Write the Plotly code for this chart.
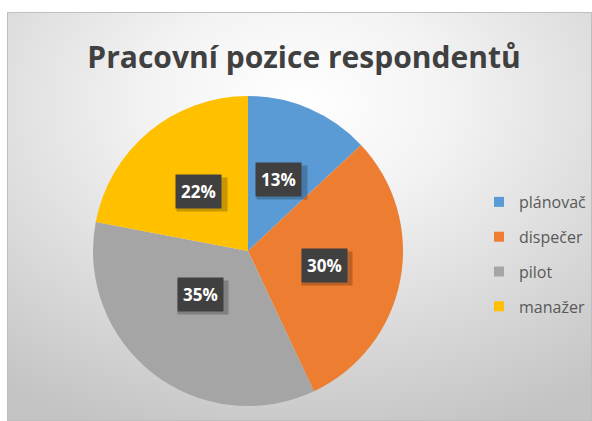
import base64
import math
import plotly.graph_objects as go

# Survey data: job positions of respondents (percent)
categories = ["plánovač", "dispečer", "pilot", "manažer"]
shares = [13, 30, 35, 22]
colors = ["#5B9BD5", "#ED7D31", "#A5A5A5", "#FFC000"]
title_text = "Pracovní pozice respondentů"

W, H = 592, 421

# pie placement (paper fractions)
pie_dom_x = [93 / W, 403 / W]
pie_dom_y = [1 - 406 / H, 1 - 96 / H]

fig = go.Figure()

fig.add_trace(go.Pie(
    labels=categories,
    values=shares,
    sort=False,
    direction="clockwise",
    rotation=0,
    marker=dict(colors=colors, line=dict(width=0)),
    textinfo="none",
    hoverinfo="label+percent",
    showlegend=False,
    domain=dict(x=pie_dom_x, y=pie_dom_y),
))

# legend entries (one group per category so they can be spaced apart)
for name, col in zip(categories, colors):
    fig.add_trace(go.Scatter(
        x=[None], y=[None], mode="markers", name=name,
        marker=dict(symbol="square", size=10, color=col),
        legendgroup=name, showlegend=True,
    ))

# percentage callouts placed at the middle of each slice
total = sum(shares)
cx = (pie_dom_x[0] + pie_dom_x[1]) / 2 * W
cy = (1 - (pie_dom_y[0] + pie_dom_y[1]) / 2) * H
radius = (pie_dom_x[1] - pie_dom_x[0]) * W / 2
label_r = 0.5 * radius
cum = 0.0
annotations = []
for v in shares:
    mid = (cum + v / 2) / total * 2 * math.pi
    cum += v
    px = cx + label_r * math.sin(mid)
    py = cy - label_r * math.cos(mid)
    ax, ay = px / W, 1 - py / H
    txt = f"{round(v / total * 100)}%"
    # soft drop shadow behind the box (blank text keeps the box size)
    annotations.append(dict(
        x=ax, y=ay, xref="paper", yref="paper",
        text="&nbsp;" * 9, showarrow=False,
        xshift=3, yshift=-3,
        font=dict(family="Open Sans", size=17, color="rgba(0,0,0,0)"),
        bgcolor="rgba(0,0,0,0.22)", borderpad=5,
    ))
    annotations.append(dict(
        x=ax, y=ay, xref="paper", yref="paper", text=f"<b>{txt}</b>",
        showarrow=False,
        font=dict(family="Open Sans", size=17, color="#FFFFFF"),
        bgcolor="#404040", borderpad=5,
    ))

# radial grey gradient backdrop of the chart area
svg = (
    '<svg xmlns="http://www.w3.org/2000/svg" width="585" height="409" '
    'preserveAspectRatio="none" viewBox="0 0 585 409">'
    '<defs><radialGradient id="g" cx="0.5" cy="0.22" r="0.85">'
    '<stop offset="0" stop-color="#ffffff"/>'
    '<stop offset="0.3" stop-color="#f3f3f3"/>'
    '<stop offset="1" stop-color="#c4c4c4"/>'
    '</radialGradient></defs>'
    '<rect x="0" y="0" width="585" height="409" fill="url(#g)"/>'
    '<rect x="0.5" y="0.5" width="584" height="408" fill="none" stroke="#bfbfbf" stroke-width="1"/>'
    '</svg>'
)
bg_src = "data:image/svg+xml;base64," + base64.b64encode(svg.encode()).decode()

fig.update_layout(
    width=W, height=H,
    margin=dict(l=0, r=0, t=0, b=0),
    paper_bgcolor="#FFFFFF",
    plot_bgcolor="rgba(0,0,0,0)",
    xaxis=dict(visible=False),
    yaxis=dict(visible=False),
    images=[dict(
        source=bg_src, xref="paper", yref="paper",
        x=7 / W, y=1 - 12 / H, sizex=1 - 7 / W, sizey=1 - 12 / H,
        xanchor="left", yanchor="top", sizing="stretch", layer="below",
    )],
    title=dict(
        text=title_text,
        x=304 / W, xanchor="center", xref="paper",
        y=1 - 57 / H, yanchor="middle", yref="paper",
        font=dict(family="Open Sans", size=30, weight=700, color="#404040"),
    ),
    legend=dict(
        x=479 / W, xanchor="left",
        y=1 - 185 / H, yanchor="top",
        font=dict(family="Open Sans", size=16, color="#595959"),
        bgcolor="rgba(0,0,0,0)",
        tracegroupgap=11,
        itemwidth=30,
    ),
    annotations=annotations,
    showlegend=True,
)

fig.write_html("out.html")
